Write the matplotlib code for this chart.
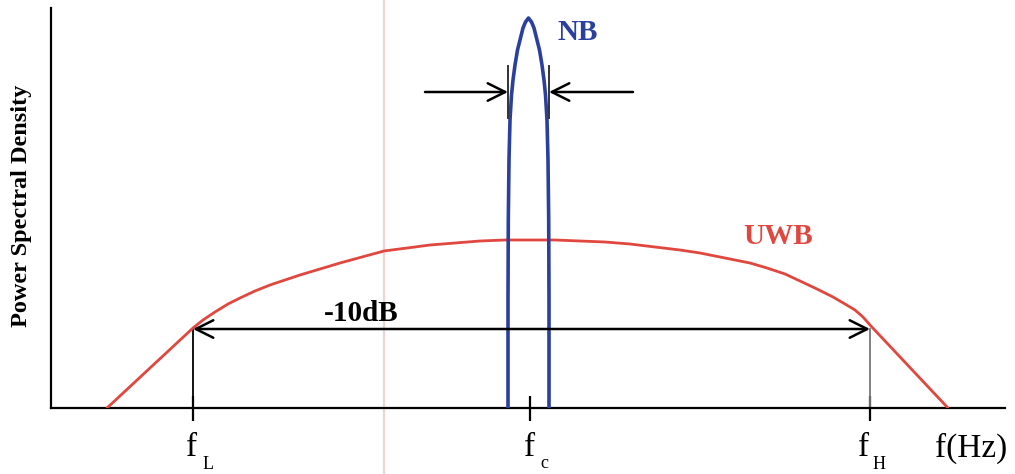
import matplotlib
matplotlib.use("Agg")
import matplotlib.pyplot as plt

# ---- data (frequency axis in arbitrary units, PSD in arbitrary units) ----
uwb_f = [107, 193, 203, 215, 228, 240, 255, 270, 285, 300, 320, 340, 362, 384, 407,
         430, 455, 480, 505, 530, 555, 580, 605, 630, 655, 680, 700, 715, 730, 750,
         767, 785, 800, 817, 833, 845, 855, 863, 870, 948]
uwb_psd = [0, 80, 88, 96, 104, 110, 117, 123, 128, 133, 139, 145, 151, 157, 160,
           163, 165, 167, 168, 168, 168, 167, 166, 164, 161, 158, 155, 152, 149, 145,
           140, 134, 127, 119, 111, 104, 98, 91, 83, 0]

nb_f = [508, 508, 508.3, 509, 510, 511.5, 513, 515, 517.5, 520.5, 523, 525.5, 528.5,
        531.5, 534, 536.5, 539.5, 542, 544, 545.5, 547, 548, 548.7, 549, 549]
nb_psd = [0, 108, 188, 248, 288, 313, 328, 343, 358, 370, 380, 386, 390,
          386, 380, 370, 358, 343, 328, 313, 288, 248, 188, 108, 0]

f_L, f_c, f_H = 193, 530, 870
level_10dB = 79
nb_bw_left, nb_bw_right = 508, 549
nb_bw_level = 316

tick_pos = [f_L, f_c, f_H]
tick_main = ["f", "f", "f"]
tick_sub = ["L", "c", "H"]

RED = "#e0473e"
BLUE = "#2b3f9e"
SERIF = "Liberation Serif"

fig = plt.figure(figsize=(10.15, 4.74), dpi=100)
ax = fig.add_axes([51 / 1015, 66 / 474, 954 / 1015, 400 / 474])
ax.set_xlim(51, 1005)
ax.set_ylim(0, 400)
for s in ("top", "right"):
    ax.spines[s].set_visible(False)
for s in ("left", "bottom"):
    ax.spines[s].set_linewidth(1.6)
ax.set_yticks([])
ax.set_xticks(tick_pos)
ax.set_xticklabels([])
ax.tick_params(axis="x", direction="inout", length=18, width=1.6, color="black")

# faint scan line
ax.axvline(384, ymin=-0.17, ymax=1.03, color="#f2d3d3", lw=1.6, clip_on=False, zorder=0)

# curves
ax.plot(uwb_f, uwb_psd, color=RED, lw=2.0, solid_capstyle="round",
        solid_joinstyle="round", zorder=3)
ax.plot(nb_f, nb_psd, color=BLUE, lw=2.6, solid_joinstyle="round", zorder=4)

# -10 dB bandwidth
ax.plot([f_L, f_L], [0, level_10dB], color="black", lw=1.3, zorder=2)
ax.plot([f_H, f_H], [0, level_10dB], color="#777777", lw=1.3, zorder=2)
ax.annotate("", xy=(f_L, level_10dB), xytext=(f_H, level_10dB),
            arrowprops=dict(arrowstyle="<->,head_length=0.9,head_width=0.45",
                            lw=1.8, color="black", mutation_scale=14,
                            shrinkA=0, shrinkB=0), zorder=5)
ax.text((318 + 405) / 2, 87, "-10dB", fontsize=21, fontweight="bold",
        family=SERIF, ha="center", va="baseline")

# NB bandwidth markers
for xb in (nb_bw_left, nb_bw_right):
    ax.plot([xb, xb], [nb_bw_level - 26, nb_bw_level + 26], color="#333333", lw=1.4, zorder=5)
for x0, x1 in ((425, nb_bw_left), (633, nb_bw_right)):
    ax.annotate("", xy=(x1, nb_bw_level), xytext=(x0, nb_bw_level),
                arrowprops=dict(arrowstyle="->,head_length=0.9,head_width=0.45",
                                lw=1.8, color="black", mutation_scale=14,
                                shrinkA=0, shrinkB=0), zorder=5)

# labels
ax.text(557, 375, "NB", fontsize=21, fontweight="bold", family=SERIF,
        color=BLUE, ha="left", va="center")
ax.text(778, 172, "UWB", fontsize=21, fontweight="bold", family=SERIF,
        color=RED, ha="center", va="center")
ax.text(22, 202, "Power Spectral Density", fontsize=17.5, fontweight="bold",
        family=SERIF, rotation=90, ha="center", va="center", clip_on=False)

# tick labels
main_x = [192, 530, 864]
sub_x = [203, 540, 873]
sub_y = [-61, -60, -61]
for mx, sx, sy, m, sub in zip(main_x, sub_x, sub_y, tick_main, tick_sub):
    ax.text(mx, -48, m, fontsize=24, family=SERIF, ha="center", va="baseline", clip_on=False)
    ax.text(sx, sy, sub, fontsize=13, family=SERIF, ha="left", va="baseline", clip_on=False)
ax.text(935, -49, "f(Hz)", fontsize=24, family=SERIF, ha="left", va="baseline", clip_on=False)

fig.savefig("out.png", dpi=100)
